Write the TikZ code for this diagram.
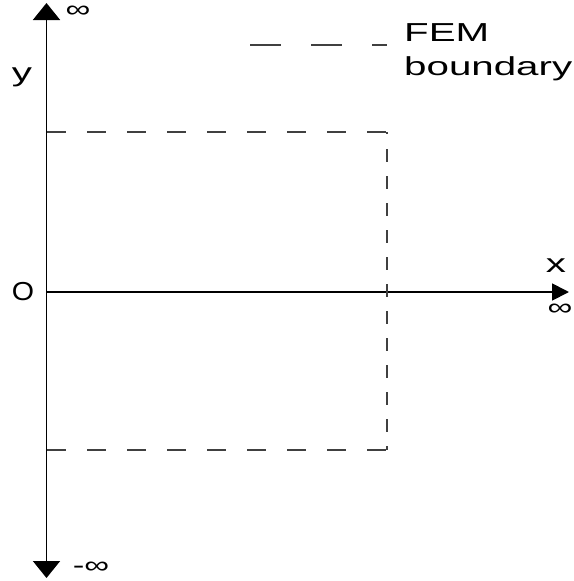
\documentclass[tikz,border=0pt]{standalone}
\usepackage{fontspec}
\usepackage{graphicx}
\setmainfont{Liberation Sans}
\usetikzlibrary{arrows.meta}
\newcommand\stx[1]{\scalebox{1.55}[1]{#1}}
\newcommand\sti[1]{\scalebox{1.45}[1]{#1}}
\begin{document}
\begin{tikzpicture}[x=1pt,y=-1pt,
  axis/.style={line width=1.8pt,black},
  fembox/.style={line width=1.3pt,draw=black!75},
  lbl/.style={inner sep=0pt,font=\fontsize{26}{30}\selectfont},
  inf/.style={inner sep=0pt,font=\fontsize{24}{28}\selectfont}]
\useasboundingbox (0,0) rectangle (573,581);
% axes
\coordinate (ybot) at (46.5,578);
\coordinate (ytop) at (46.5,3);
\coordinate (orig) at (46.5,292);
\coordinate (xend) at (569,292);
\draw[axis,{Triangle[length=17pt,width=27pt]}-{Triangle[length=17pt,width=27pt]}] (ybot) -- (ytop);
\draw[axis,-{Triangle[length=17pt,width=17pt]}] (orig) -- (xend);
% FEM boundary box
\coordinate (c1) at (47,132);
\coordinate (c2) at (387,132);
\coordinate (c3) at (387,450);
\coordinate (c4) at (47,450);
\draw[fembox,dash pattern=on 19pt off 21pt] (c1) -- (c2);
\draw[fembox,dash pattern=on 19pt off 21pt] (c4) -- (c3);
\draw[fembox,dash pattern=on 2pt off 15pt on 13pt off 14pt on 13pt off 14pt on 13pt off 14pt on 13pt off 14pt on 13pt off 14pt on 13pt off 14pt on 13pt off 14pt on 13pt off 14pt on 13pt off 14pt on 13pt off 14pt on 13pt off 14pt on 100pt off 0pt] (c2) -- (c3);
% legend
\coordinate (l1) at (250,45);
\coordinate (l2) at (387,45);
\draw[fembox,dash pattern=on 31pt off 30pt] (l1) -- (l2);
\node[lbl,anchor=base west] (fem) at (404,41) {\stx{FEM}};
\node[lbl,anchor=base west] (bnd) at (404,75) {\stx{boundary}};
% labels
\node[lbl,anchor=base] (ylab) at (22,81) {\stx{y}};
\node[lbl,anchor=base] (xlab) at (556,272) {\stx{x}};
\node[lbl] (olab) at (23,292) {\scalebox{1.1}[1]{O}};
\node[inf] (inftop) at (78,12) {\sti{∞}};
\node[inf] (infright) at (560,310) {\sti{∞}};
\node[inf] (infbot) at (91,568) {\sti{-∞}};
\end{tikzpicture}
\end{document}
